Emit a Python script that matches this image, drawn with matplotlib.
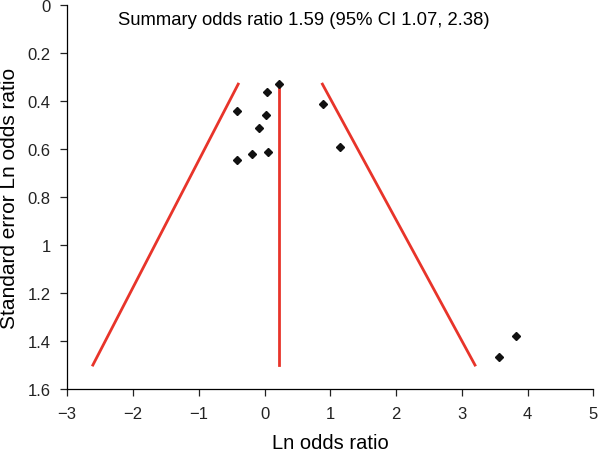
import matplotlib.pyplot as plt

plt.rcParams['font.family'] = ['Liberation Sans', 'DejaVu Sans']

# Study estimates (ln odds ratio, standard error)
ln_or = [0.22, 0.04, -0.42, 0.02, -0.09, -0.42, -0.19, 0.05, 0.89, 1.14, 3.83, 3.57]
se = [0.329, 0.364, 0.443, 0.457, 0.511, 0.646, 0.621, 0.614, 0.412, 0.593, 1.379, 1.468]

# Funnel lines
centre_x = [0.22, 0.22]
centre_y = [0.33, 1.5]
left_x = [-0.40, -2.61]
right_x = [0.88, 3.20]
funnel_y = [0.33, 1.5]

fig = plt.figure(figsize=(6, 4.52), dpi=100)
ax = fig.add_axes([0.112, 0.137, 0.877, 0.85])

red = '#e8342a'
ax.plot(centre_x, centre_y, color=red, lw=2)
ax.plot(left_x, funnel_y, color=red, lw=2)
ax.plot(right_x, funnel_y, color=red, lw=2)
ax.plot(ln_or, se, 'D', color='#111111', markersize=4.5, linestyle='none')

ax.set_xlim(-3, 5)
ax.set_ylim(1.6, 0)
ax.set_xticks(range(-3, 6))
ax.set_xticklabels(['\u22123', '\u22122', '\u22121', '0', '1', '2', '3', '4', '5'])
ax.set_yticks([0, 0.2, 0.4, 0.6, 0.8, 1, 1.2, 1.4, 1.6])
ax.set_yticklabels(['0', '0.2', '0.4', '0.6', '0.8', '1', '1.2', '1.4', '1.6'])

for s in ['top', 'right']:
    ax.spines[s].set_visible(False)
for s in ['left', 'bottom']:
    ax.spines[s].set_linewidth(0.9)
ax.tick_params(direction='out', length=5, width=0.9, labelsize=12, pad=7, colors='#222222')

ax.set_xlabel('Ln odds ratio', fontsize=14.5, labelpad=9)
ax.set_ylabel('Standard error Ln odds ratio', fontsize=15, labelpad=6)

ax.text(0.449, 0.962, 'Summary odds ratio 1.59 (95% CI 1.07, 2.38)',
        transform=ax.transAxes, ha='center', va='center', fontsize=13.3)

fig.savefig('out.png', dpi=100)
